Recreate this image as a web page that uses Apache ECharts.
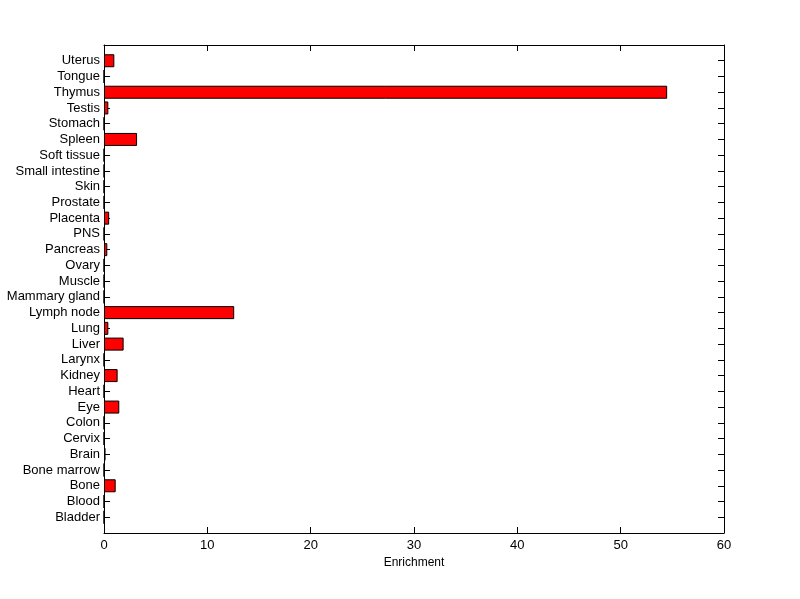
<!DOCTYPE html>
<html>
<head>
<meta charset="utf-8">
<script src="https://cdn.jsdelivr.net/npm/echarts@6/dist/echarts.min.js"></script>
<style>
  html, body { margin: 0; padding: 0; background: #fff; }
  #chart { width: 800px; height: 599px; }
</style>
</head>
<body>
<div id="chart"></div>
<script>
// tissues, bottom to top
const tissues = ['Bladder', 'Blood', 'Bone', 'Bone marrow', 'Brain', 'Cervix', 'Colon', 'Eye',
  'Heart', 'Kidney', 'Larynx', 'Liver', 'Lung', 'Lymph node', 'Mammary gland', 'Muscle',
  'Ovary', 'Pancreas', 'PNS', 'Placenta', 'Prostate', 'Skin', 'Small intestine', 'Soft tissue',
  'Spleen', 'Stomach', 'Testis', 'Thymus', 'Tongue', 'Uterus']
const enrichment = [0, 0, 1.13, 0, 0.15, 0, 0, 1.48,
  0, 1.32, 0, 1.9, 0.42, 12.6, 0, 0,
  0, 0.32, 0, 0.5, 0, 0, 0, 0,
  3.2, 0, 0.42, 54.5, 0, 1.0]
const xTicks = [0, 10, 20, 30, 40, 50, 60]

// pad one empty slot at each end so the axis runs 0..31 like the original
const cats = [''].concat(tissues, [''])
const vals = [null].concat(enrichment, [null])

const font = 'Liberation Sans, Arial, sans-serif'
const chart = echarts.init(document.getElementById('chart'))

const yBase = {
  type: 'category',
  data: cats,
  boundaryGap: false,
  axisLine: { show: true, onZero: false, lineStyle: { color: '#000', width: 1 } },
  axisTick: { show: true, inside: true, length: 6, interval: 0, lineStyle: { color: '#000' } },
  splitLine: { show: false }
}
const xBase = {
  type: 'value',
  min: xTicks[0],
  max: xTicks[xTicks.length - 1],
  interval: 10,
  axisLine: { show: true, onZero: false, lineStyle: { color: '#000', width: 1 } },
  axisTick: { show: true, inside: true, length: 6, lineStyle: { color: '#000' } },
  splitLine: { show: false }
}

chart.setOption({
  animation: false,
  backgroundColor: '#fff',
  grid: { left: 104, right: 76, top: 45, bottom: 66 },
  xAxis: [
    Object.assign({}, xBase, {
      position: 'bottom',
      name: 'Enrichment',
      nameLocation: 'middle',
      nameGap: 24,
      nameTextStyle: { color: '#000', fontSize: 12, fontFamily: font },
      axisLabel: { color: '#000', fontSize: 13, fontFamily: font, margin: 6 }
    }),
    Object.assign({}, xBase, { position: 'top', axisLabel: { show: false } })
  ],
  yAxis: [
    Object.assign({}, yBase, {
      position: 'left',
      axisLabel: { interval: 0, color: '#000', fontSize: 13, fontFamily: font, margin: 4 }
    }),
    Object.assign({}, yBase, { position: 'right', axisLabel: { show: false } })
  ],
  series: [{
    type: 'bar',
    data: vals,
    barWidth: 13,
    itemStyle: { color: '#ff0000', borderColor: '#000', borderWidth: 1 }
  }]
})
</script>
</body>
</html>
